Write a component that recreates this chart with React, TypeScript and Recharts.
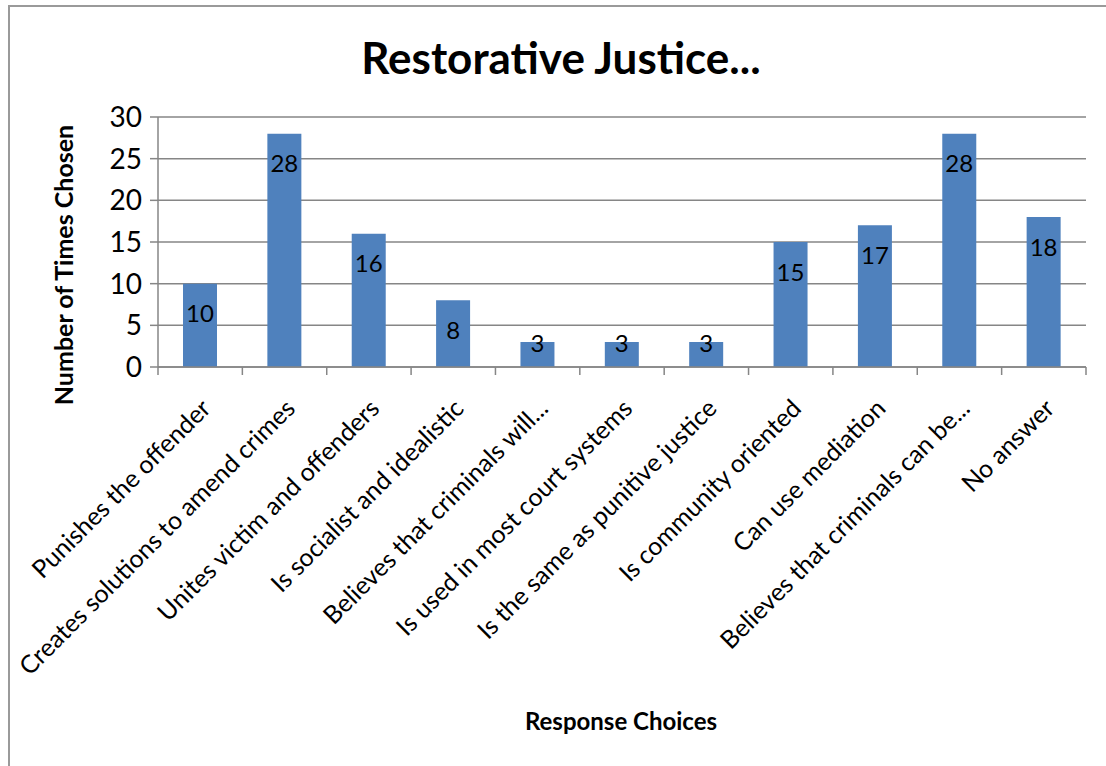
import React from "react";
import { BarChart, Bar, XAxis, YAxis, CartesianGrid, LabelList } from "recharts";

const categories = [
  "Punishes the offender",
  "Creates solutions to amend crimes",
  "Unites victim and offenders",
  "Is socialist and idealistic",
  "Believes that criminals will...",
  "Is used in most court systems",
  "Is the same as punitive justice",
  "Is community oriented",
  "Can use mediation",
  "Believes that criminals can be...",
  "No answer",
];
const timesChosen = [10, 28, 16, 8, 3, 3, 3, 15, 17, 28, 18];
const yTicks = [0, 5, 10, 15, 20, 25, 30];

const data = categories.map((name, i) => ({ name, value: timesChosen[i] }));

const FONT = "Lato, 'Open Sans', sans-serif";
const GRID = "#868686";
const BAR = "#4F81BD";
const W = 1106;
const H = 766;

function XTick(props: any) {
  const { x, y, payload, index } = props;
  const half = payload?.offset ?? 42.18;
  const last = index === categories.length - 1;
  return (
    <g transform={`translate(${x},${y})`}>
      <line x1={-half} y1={0} x2={-half} y2={8} stroke={GRID} strokeWidth={1.5} />
      {last && <line x1={half} y1={0} x2={half} y2={8} stroke={GRID} strokeWidth={1.5} />}
      <text
        x={0}
        y={0}
        transform="translate(12,43) rotate(-45)"
        textAnchor="end"
        fontSize={25}
        fontFamily={FONT}
        fill="#000"
      >
        {payload.value}
      </text>
    </g>
  );
}

function ValueLabel(props: any) {
  const { x, y, width, height, value } = props;
  const cy = height < 40 ? y : y + 29;
  return (
    <text
      x={x + width / 2}
      y={cy}
      textAnchor="middle"
      dominantBaseline="central"
      fontSize={24}
      fontFamily={FONT}
      fill="#000"
    >
      {value}
    </text>
  );
}

export default function App() {
  return (
    <div style={{ position: "absolute", left: 0, top: 0, width: W, height: H, overflow: "hidden", background: "#fff", fontFamily: FONT }}>
      <div
        style={{
          position: "absolute",
          left: 8,
          top: 5,
          width: W - 8,
          height: H - 5,
          borderTop: "2px solid #9a9a9a",
          borderLeft: "2px solid #9a9a9a",
          boxSizing: "border-box",
        }}
      />
      <div style={{ position: "absolute", left: 0, top: 0 }}>
        <BarChart
          width={W}
          height={H}
          data={data}
          margin={{ top: 117, right: 20, left: 0, bottom: 99 }}
        >
          <CartesianGrid vertical={false} stroke={GRID} strokeWidth={1.5} />
          <XAxis
            dataKey="name"
            interval={0}
            height={300}
            tickLine={false}
            tickSize={0}
            tickMargin={0}
            axisLine={{ stroke: GRID, strokeWidth: 1.5 }}
            tick={<XTick />}
          />
          <YAxis
            width={158}
            domain={[0, 30]}
            ticks={yTicks}
            interval={0}
            tickSize={8}
            tickMargin={8}
            axisLine={{ stroke: GRID, strokeWidth: 1.5 }}
            tickLine={{ stroke: GRID, strokeWidth: 1.5 }}
            tick={{ fontSize: 28, fill: "#000", fontFamily: FONT }}
          />
          <Bar dataKey="value" fill={BAR} barSize={34} isAnimationActive={false}>
            <LabelList dataKey="value" content={<ValueLabel />} />
          </Bar>
        </BarChart>
      </div>
      <svg width={W} height={H} style={{ position: "absolute", left: 0, top: 0, pointerEvents: "none" }}>
        <text x={561} y={74} textAnchor="middle" fontSize={44} fontWeight="bold" fontFamily={FONT} fill="#000">
          Restorative Justice...
        </text>
        <text
          x={0}
          y={0}
          transform="translate(63,265) rotate(-90)"
          textAnchor="middle"
          dominantBaseline="central"
          fontSize={25}
          fontWeight="bold"
          fontFamily={FONT}
          fill="#000"
        >
          Number of Times Chosen
        </text>
        <text x={621} y={720} textAnchor="middle" dominantBaseline="central" fontSize={24} fontWeight="bold" fontFamily={FONT} fill="#000">
          Response Choices
        </text>
      </svg>
    </div>
  );
}
